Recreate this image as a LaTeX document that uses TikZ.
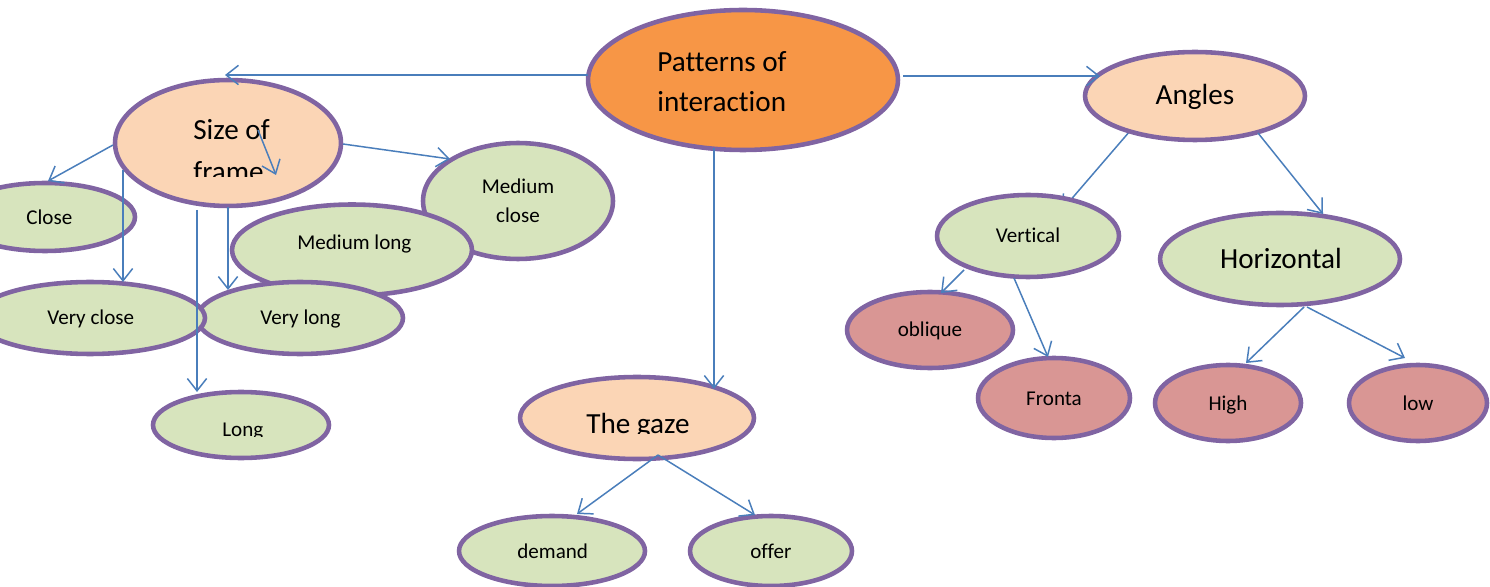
\documentclass[tikz,border=0pt]{standalone}
\usepackage{fontspec}
\setmainfont[Ligatures=NoCommon]{Carlito}
\usetikzlibrary{shapes.geometric,arrows.meta,calc}
\pgfdeclarelayer{background}
\pgfsetlayers{background,main}
\definecolor{purp}{HTML}{8064A2}
\definecolor{orng}{HTML}{F79646}
\definecolor{peach}{HTML}{FBD5B5}
\definecolor{grn}{HTML}{D7E4BD}
\definecolor{pinkr}{HTML}{D99694}
\definecolor{lblue}{HTML}{4A7EBB}
\begin{document}
\begin{tikzpicture}[x=0.02cm,y=-0.02cm,
  el/.style={ellipse, draw=purp, line width=2.6pt, inner sep=0pt},
  conn/.style={draw=lblue, line width=0.85pt, -{Straight Barb[length=7pt,width=11pt]}},
  small/.style={font=\fontsize{12}{16.4}\selectfont, inner sep=0pt},
  big/.style={font=\fontsize{16.6}{22.7}\selectfont, inner sep=0pt}]
\useasboundingbox (0,0) rectangle (1490,587);
% ellipses
\node[el, fill=orng, minimum width=6.2cm, minimum height=2.8cm] (P) at (743,80) {};
\node[el, fill=grn, minimum width=3.8cm, minimum height=2.32cm] (MC) at (518,201) {};
\node[el, fill=grn, minimum width=4.8cm, minimum height=1.82cm] (ML) at (352,250) {};
\node[el, fill=grn, minimum width=4.12cm, minimum height=1.44cm] (VL) at (300,318) {};
\node[el, fill=grn, minimum width=4.6cm, minimum height=1.44cm] (VC) at (90,318) {};
\node[el, fill=grn, minimum width=3.6cm, minimum height=1.36cm] (C) at (45,217) {};
\node[el, fill=grn, minimum width=3.52cm, minimum height=1.32cm] (L) at (241,425) {};
\node[el, fill=peach, minimum width=4.52cm, minimum height=2.52cm] (S) at (228,143) {};
\node[el, fill=peach, minimum width=4.68cm, minimum height=1.64cm] (G) at (637,418) {};
\node[el, fill=grn, minimum width=3.72cm, minimum height=1.4cm] (D) at (552,551) {};
\node[el, fill=grn, minimum width=3.24cm, minimum height=1.4cm] (O) at (771,551) {};
\node[el, fill=peach, minimum width=4.4cm, minimum height=1.76cm] (A) at (1195,96) {};
\node[el, fill=grn, minimum width=3.64cm, minimum height=1.64cm] (V) at (1028,236) {};
\node[el, fill=grn, minimum width=4.8cm, minimum height=1.84cm] (H) at (1280,259) {};
\node[el, fill=pinkr, minimum width=3.32cm, minimum height=1.52cm] (Ob) at (930,330) {};
\node[el, fill=pinkr, minimum width=3.04cm, minimum height=1.6cm] (F) at (1054,398) {};
\node[el, fill=pinkr, minimum width=2.92cm, minimum height=1.52cm] (Hi) at (1228,403) {};
\node[el, fill=pinkr, minimum width=2.76cm, minimum height=1.52cm] (Lo) at (1418,403) {};
% texts
\node[big, anchor=base west] (tP1) at (657,72) {Patterns of};
\node[big, anchor=base west] (tP2) at (657,112) {interaction};
\node[big, anchor=base west] (tS1) at (193,140) {Size of};
\begin{scope}
  \clip (150,100) rectangle (330,177);
  \node[big, anchor=base west] (tS2) at (193,182) {frame};
\end{scope}
\node[small, anchor=base west] (tC) at (26,225) {Close};
\node[small, anchor=base west] (tML) at (297,250) {Medium long};
\node[small, anchor=base west] (tVC) at (47,325) {Very close};
\node[small, anchor=base west] (tVL) at (260,325) {Very long};
\node[small, anchor=base] (tMC1) at (518,194) {Medium};
\node[small, anchor=base] (tMC2) at (518,223) {close};
\begin{scope}
  \clip (180,400) rectangle (300,436);
  \node[small, anchor=base west] (tL) at (222,436) {Long};
\end{scope}
\begin{scope}
  \clip (560,395) rectangle (720,433);
  \node[big, anchor=base west] (tG) at (586,433) {The gaze};
\end{scope}
\node[small, anchor=base west] (tD) at (517,558) {demand};
\node[small, anchor=base west] (tO) at (750,558) {offer};
\node[big, anchor=base] (tA) at (1195,105) {Angles};
\node[small, anchor=base] (tV) at (1028,243) {Vertical};
\node[big, anchor=base] (tH) at (1281,269) {Horizontal};
\node[small, anchor=base] (tOb) at (930,337) {oblique};
\node[small, anchor=base] (tF) at (1054,405) {Fronta};
\node[small, anchor=base] (tHi) at (1228,410) {High};
\node[small, anchor=base] (tLo) at (1418,410) {low};
% connectors
\draw[conn] ($(P)+(-155,-5)$) -- ($(S)+(-3,-68)$);
\draw[conn] ($(P)+(160,-4)$) -- ($(A)+(-95,-20)$);
\draw[conn] ($(P)+(-29,68)$) -- ($(G)+(77,-29)$);
\draw[conn] ($(S)+(-115,2)$) -- ($(C)+(3,-36)$);
\draw[conn] ($(S)+(-105,27)$) -- ($(VC)+(33,-36)$);
\draw[conn] ($(S)+(-31,67)$) -- ($(L)+(-44,-33)$);
\draw[conn] ($(S)+(0,64)$) -- ($(VL)+(-72,-28)$);
\draw[conn] ($(S)+(115,1)$) -- ($(MC)+(-68,-42)$);
\draw[conn] ($(S)+(30,-13)$) -- ($(S)+(48,32)$);
\begin{pgfonlayer}{background}
\draw[conn] ($(A)+(-65,35)$) -- ($(V)+(34,-26)$);
\end{pgfonlayer}
\draw[conn] ($(A)+(63,37)$) -- ($(H)+(43,-45)$);
\draw[conn] ($(V)+(-64,34)$) -- ($(Ob)+(11,-37)$);
\draw[conn] ($(V)+(-14,42)$) -- ($(F)+(-6,-41)$);
\draw[conn] ($(H)+(24,48)$) -- ($(Hi)+(18,-40)$);
\draw[conn] ($(H)+(27,48)$) -- ($(Lo)+(-13,-45)$);
\draw[conn] ($(G)+(21,37)$) -- ($(D)+(25,-37)$);
\draw[conn] ($(G)+(21,37)$) -- ($(O)+(-16,-36)$);
\end{tikzpicture}
\end{document}
